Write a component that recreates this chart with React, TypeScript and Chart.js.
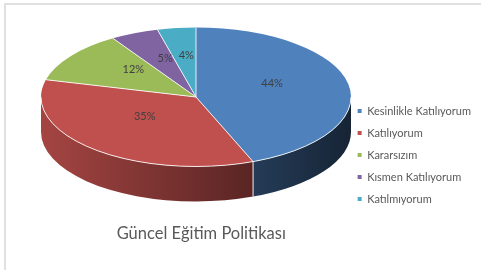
import React, { useEffect, useRef } from "react";
import { Chart, registerables } from "chart.js";

Chart.register(...registerables);

const categories = [
  "Kesinlikle Katılıyorum",
  "Katılıyorum",
  "Kararsızım",
  "Kısmen Katılıyorum",
  "Katılmıyorum",
];
const values = [44, 35, 12, 5, 4];
const chartTitle = "Güncel Eğitim Politikası";
const colors = ["#4F81BD", "#C0504D", "#9BBB59", "#8064A2", "#4BACC6"];

// ellipse geometry for the pseudo-3D projection
const ELL = { x: 196, y: 97, rx: 155, ry: 69.5, depth: 35, labelLift: 7 };

function shade(hex: string, f: number): string {
  const n = parseInt(hex.slice(1), 16);
  const r = Math.round(((n >> 16) & 255) * f);
  const g = Math.round(((n >> 8) & 255) * f);
  const b = Math.round((n & 255) * f);
  return `rgb(${r},${g},${b})`;
}

const pie3d = {
  id: "pie3d",
  beforeDatasetsDraw(chart: any) {
    const meta = chart.getDatasetMeta(0);
    const arcs = meta.data;
    const ctx = chart.ctx as CanvasRenderingContext2D;
    const { x: ex, y: ey, rx, ry, depth } = ELL;
    ctx.save();
    arcs.forEach((arc: any, i: number) => {
      const s = arc.startAngle;
      const e = arc.endAngle;
      const a = Math.max(s, 0);
      const b = Math.min(e, Math.PI);
      if (b <= a) return;
      const g = ctx.createLinearGradient(ex - rx, 0, ex + rx, 0);
      g.addColorStop(0, shade(colors[i], 0.86));
      g.addColorStop(1, shade(colors[i], 0.28));
      ctx.beginPath();
      ctx.ellipse(ex, ey, rx, ry, 0, a, b);
      ctx.ellipse(ex, ey + depth, rx, ry, 0, b, a, true);
      ctx.closePath();
      ctx.fillStyle = g;
      ctx.fill();
    });
    // seams on the side
    ctx.strokeStyle = "rgba(255,255,255,0.9)";
    ctx.lineWidth = 1;
    arcs.forEach((arc: any) => {
      const e = arc.endAngle;
      if (e > 0 && e < Math.PI) {
        const px = ex + rx * Math.cos(e);
        const py = ey + ry * Math.sin(e);
        ctx.beginPath();
        ctx.moveTo(px, py);
        ctx.lineTo(px, py + depth);
        ctx.stroke();
      }
    });
    ctx.restore();
    // map the library's circle onto the ellipse
    ctx.save();
    const arc0 = arcs[0];
    if (arc0) {
      const R = arc0.outerRadius;
      ctx.translate(ex, ey);
      ctx.scale(rx / R, ry / R);
      ctx.translate(-arc0.x, -arc0.y);
    }
  },
  afterDatasetsDraw(chart: any) {
    const ctx = chart.ctx as CanvasRenderingContext2D;
    ctx.restore();
    const meta = chart.getDatasetMeta(0);
    const arcs = meta.data;
    const { x: ex, y: ey, rx, ry, labelLift } = ELL;
    ctx.save();
    // front rim highlight
    ctx.strokeStyle = "rgba(255,255,255,0.85)";
    ctx.lineWidth = 1;
    ctx.beginPath();
    ctx.ellipse(ex, ey, rx, ry, 0, 0, Math.PI);
    ctx.stroke();
    // seams on top face
    arcs.forEach((arc: any) => {
      const s = arc.startAngle;
      ctx.beginPath();
      ctx.moveTo(ex, ey);
      ctx.lineTo(ex + rx * Math.cos(s), ey + ry * Math.sin(s));
      ctx.stroke();
    });
    // percentage labels
    const total = values.reduce((p, v) => p + v, 0);
    ctx.fillStyle = "#404040";
    ctx.font = "11px Lato";
    ctx.textAlign = "center";
    ctx.textBaseline = "middle";
    arcs.forEach((arc: any, i: number) => {
      const p = arc.tooltipPosition();
      const R = arc.outerRadius;
      const X = ex + ((p.x - arc.x) * rx) / R;
      const Y = ey + ((p.y - arc.y) * ry) / R - labelLift;
      ctx.fillText(Math.round((values[i] / total) * 100) + "%", X, Y);
    });
    ctx.restore();
  },
};

export default function App() {
  const ref = useRef<HTMLCanvasElement>(null);
  useEffect(() => {
    if (!ref.current) return;
    const chart = new Chart(ref.current, {
      type: "pie",
      data: {
        labels: categories,
        datasets: [
          {
            data: values,
            backgroundColor: colors,
            borderWidth: 0,
            clip: false,
          } as any,
        ],
      },
      options: {
        responsive: false,
        animation: false,
        layout: { padding: { top: 56, bottom: 16, left: 56, right: 0 } },
        plugins: {
          legend: {
            position: "right",
            labels: {
              boxWidth: 4,
              boxHeight: 4,
              padding: 11,
              color: "#595959",
              font: { family: "Lato", size: 11 },
            },
          },
          title: {
            display: true,
            text: chartTitle,
            position: "bottom",
            fullSize: false,
            color: "#595959",
            font: { family: "Lato", size: 16.5, weight: "normal" },
            padding: 10,
          },
          tooltip: { enabled: false },
        },
      },
      plugins: [pie3d],
    });
    return () => chart.destroy();
  }, []);
  return (
    <div style={{ position: "fixed", left: 0, top: 0, width: 481, height: 270, background: "#fff", overflow: "hidden" }}>
      <div
        style={{
          position: "absolute",
          left: 4,
          top: 3,
          width: 600,
          height: 400,
          borderTop: "2px solid #e0e0e0",
          borderLeft: "2px solid #e0e0e0",
        }}
      />
      <canvas ref={ref} width={481} height={270} style={{ position: "absolute", left: 0, top: 0 }} />
    </div>
  );
}
